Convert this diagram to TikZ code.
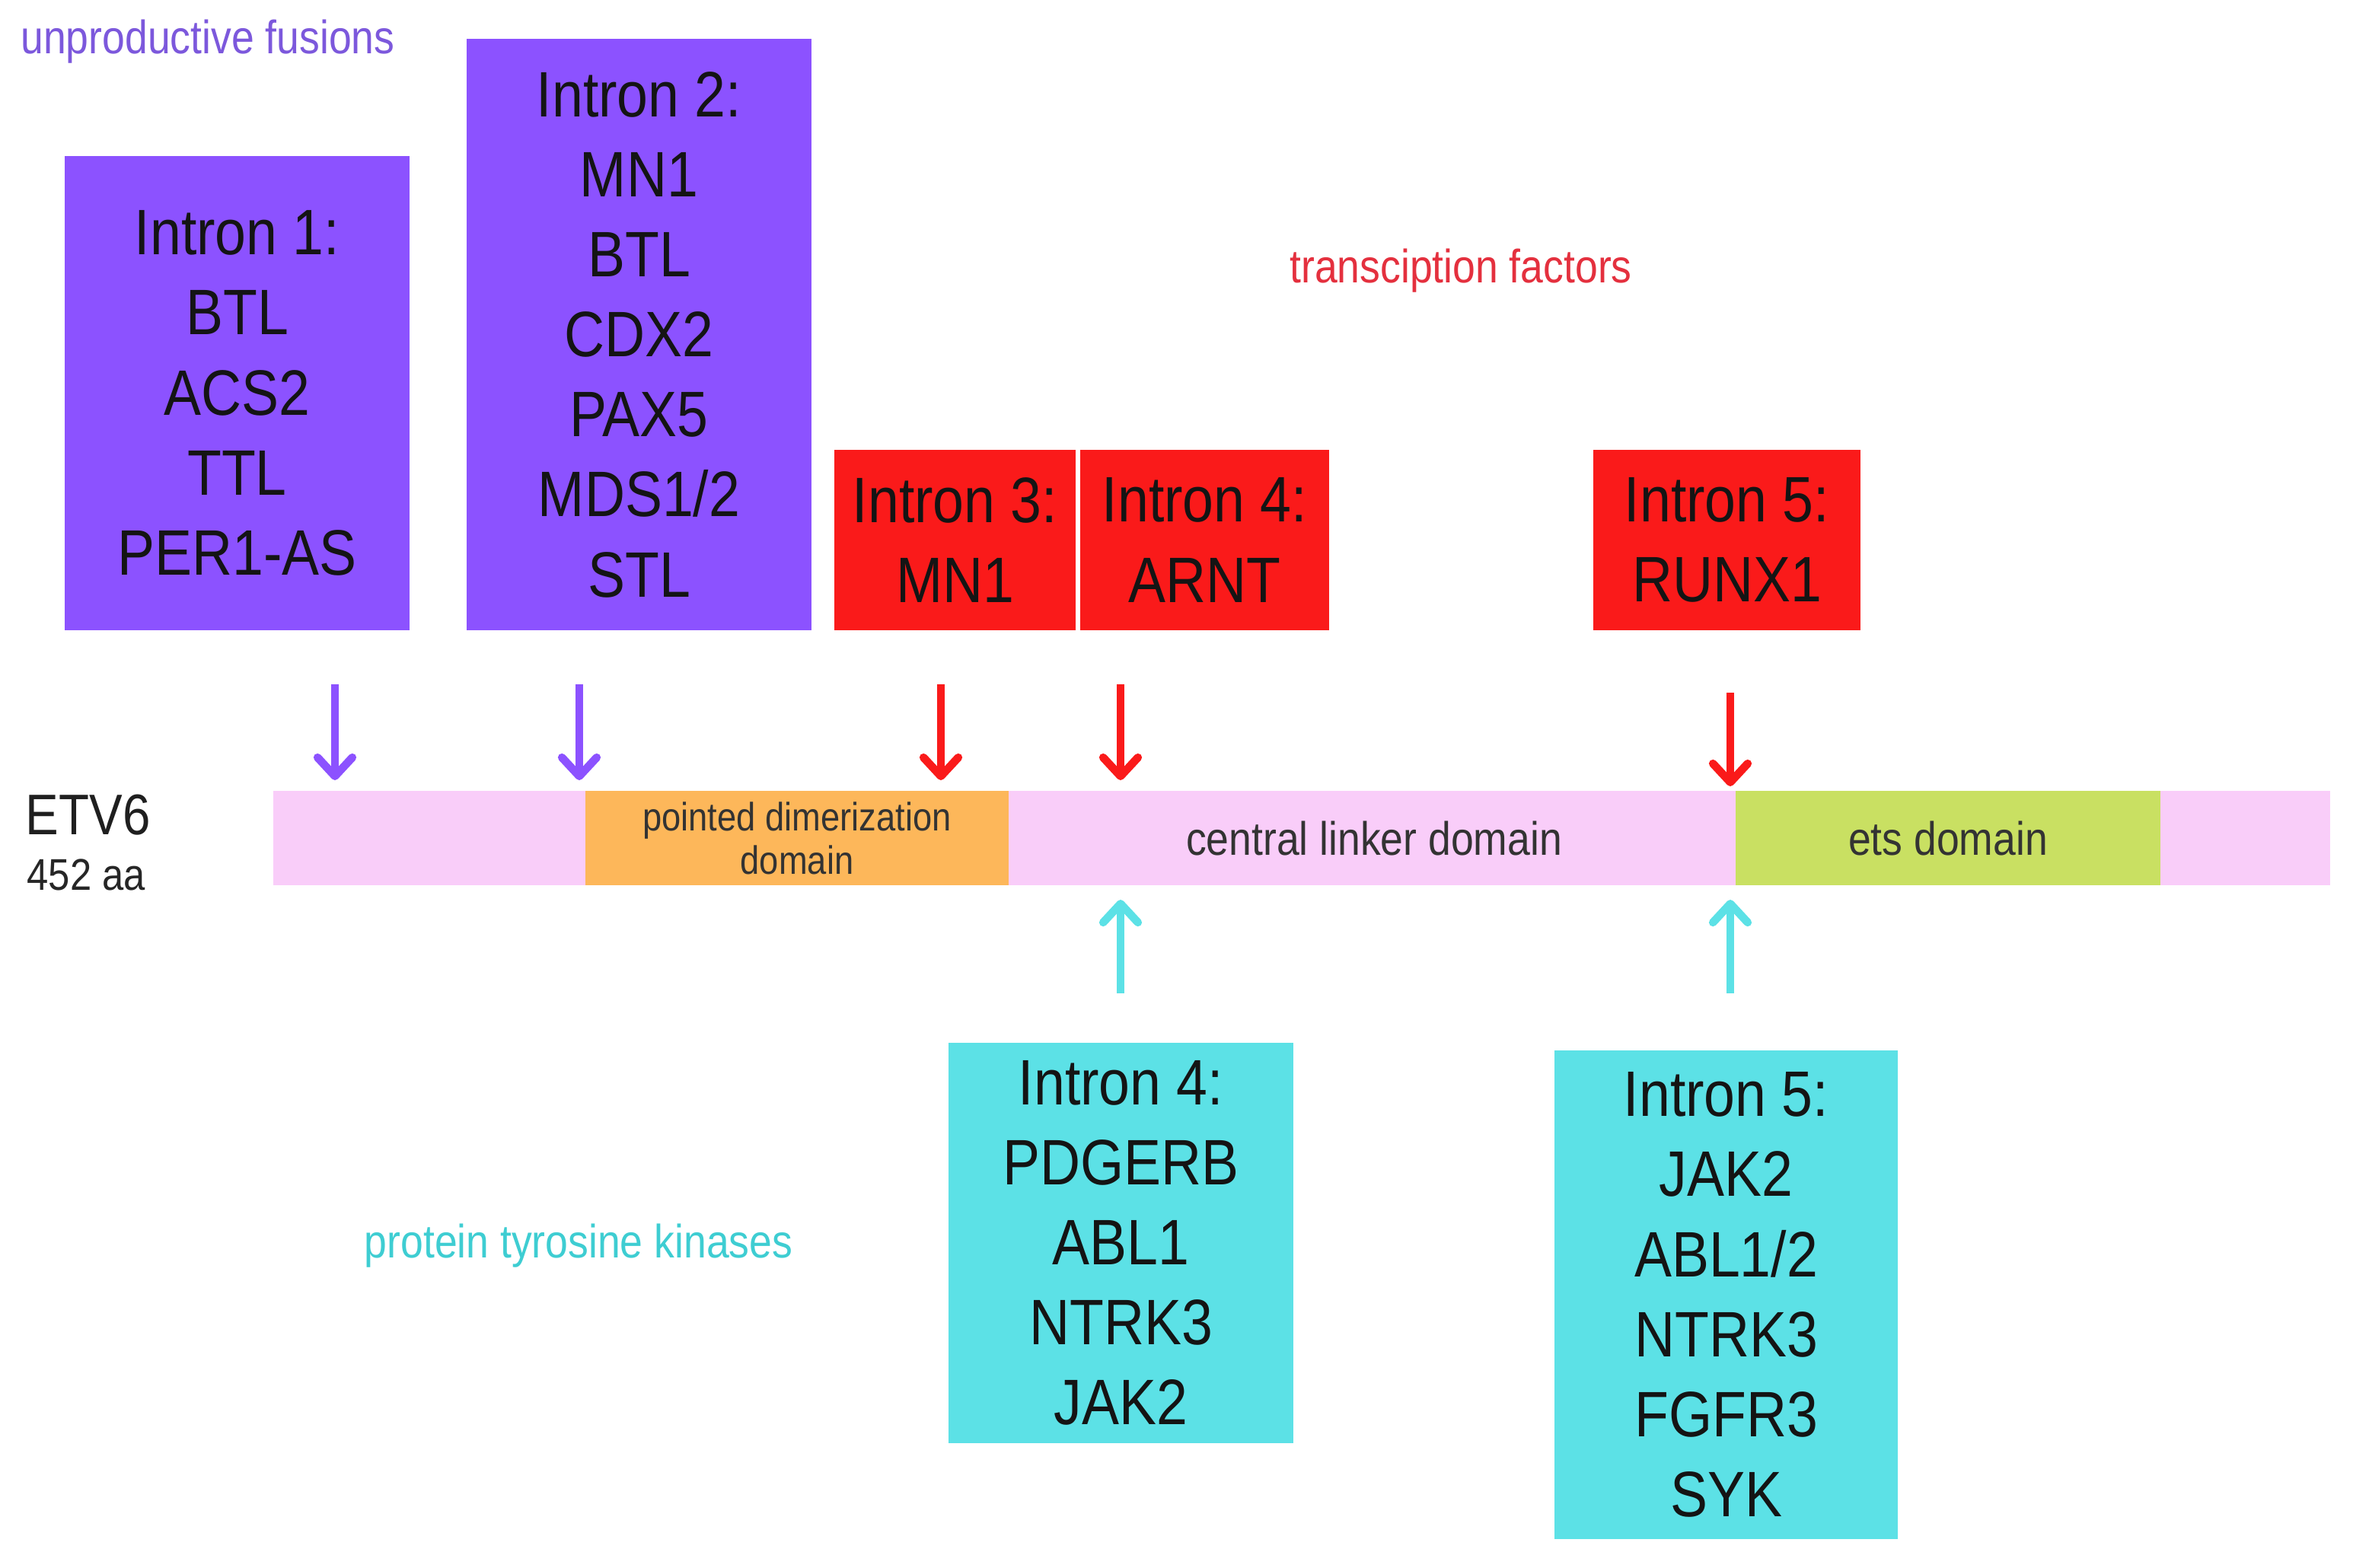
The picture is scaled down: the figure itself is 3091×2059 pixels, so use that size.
\documentclass[tikz,border=0pt]{standalone}
\usepackage{fontspec}
\setmainfont{Liberation Sans}[FakeStretch=0.87]
\usetikzlibrary{arrows.meta}

\definecolor{unprod}{HTML}{8C52FF}
\definecolor{tfred}{HTML}{FA1A1A}
\definecolor{kincyan}{HTML}{5CE1E6}
\definecolor{barpink}{HTML}{F9CDF9}
\definecolor{pntorange}{HTML}{FDB75A}
\definecolor{etsgreen}{HTML}{C9E062}
\definecolor{unprodtext}{HTML}{7C58DC}
\definecolor{tftext}{HTML}{E4303E}
\definecolor{kintext}{HTML}{3ECDD2}

\begin{document}
\begin{tikzpicture}[x=0.01cm,y=-0.01cm,
  intron/.style={inner sep=0pt,align=center,text=black!92,
    font=\fontsize{24}{29.9}\selectfont},
  legend/.style={inner sep=0pt,font=\fontsize{17.5}{20}\selectfont},
  domainbox/.style={inner sep=0pt,align=center,text=black!80,minimum height=1.24cm},
  brk/.style={line width=3pt,-{Straight Barb[round,length=7pt,width=13pt]}}]

\useasboundingbox (0,0) rectangle (3091,2059);

% legend texts
\node[legend,text=unprodtext] (lunprod) at (273,55) {unproductive fusions};
\node[legend,text=tftext] (ltf) at (1919,356) {transciption factors};
\node[legend,text=kintext] (lkin) at (760,1637) {protein tyrosine kinases};

% unproductive fusions
\node[intron,fill=unprod,minimum width=4.53cm,minimum height=6.23cm] (i1) at (311.5,516.5)
  {Intron 1:\\BTL\\ACS2\\TTL\\PER1-AS};
\node[intron,fill=unprod,minimum width=4.53cm,minimum height=7.77cm] (i2) at (839.5,439.5)
  {Intron 2:\\MN1\\BTL\\CDX2\\PAX5\\MDS1/2\\STL};

% transcription factors
\node[intron,fill=tfred,minimum width=3.17cm,minimum height=2.37cm] (t3) at (1254.5,709.5)
  {Intron 3:\\MN1};
\node[intron,fill=tfred,minimum width=3.27cm,minimum height=2.37cm] (t4) at (1582.5,709.5)
  {Intron 4:\\ARNT};
\node[intron,fill=tfred,minimum width=3.51cm,minimum height=2.37cm] (t5) at (2268.5,709.5)
  {Intron 5:\\RUNX1};

% protein tyrosine kinases
\node[intron,fill=kincyan,minimum width=4.53cm,minimum height=5.26cm] (k4) at (1472.5,1633)
  {Intron 4:\\PDGERB\\ABL1\\NTRK3\\JAK2};
\node[intron,fill=kincyan,minimum width=4.51cm,minimum height=6.42cm] (k5) at (2267.5,1701)
  {Intron 5:\\JAK2\\ABL1/2\\NTRK3\\FGFR3\\SYK};

% ETV6 protein
\node[anchor=west,inner sep=0pt,text=black!88,font=\fontsize{21.4}{24}\selectfont] (etv) at (33,1071) {ETV6};
\node[anchor=west,inner sep=0pt,text=black!85,font=\fontsize{16.6}{20}\selectfont] (len) at (35,1149) {452 aa};

\fill[barpink] (359,1039) rectangle (3061,1163);
\node[domainbox,fill=pntorange,minimum width=5.56cm,font=\fontsize{14.8}{16.2}\selectfont] (pnt) at (1047,1101)
  {pointed dimerization\\domain};
\node[domainbox,font=\fontsize{17.5}{20}\selectfont] (lnk) at (1805,1101) {central linker domain};
\node[domainbox,fill=etsgreen,minimum width=5.58cm,font=\fontsize{17.5}{20}\selectfont] (ets) at (2559,1101) {ets domain};

% breakpoints
\coordinate (a1) at (440,899);   \coordinate (b1) at (440,1025);
\coordinate (a2) at (761,899);   \coordinate (b2) at (761,1025);
\coordinate (a3) at (1236,899);  \coordinate (b3) at (1236,1025);
\coordinate (a4) at (1472,899);  \coordinate (b4) at (1472,1025);
\coordinate (a5) at (2273,910);  \coordinate (b5) at (2273,1033);
\coordinate (c4) at (1472,1305); \coordinate (d4) at (1472,1182);
\coordinate (c5) at (2273,1305); \coordinate (d5) at (2273,1182);

\draw[brk,unprod] (a1) -- (b1);
\draw[brk,unprod] (a2) -- (b2);
\draw[brk,tfred] (a3) -- (b3);
\draw[brk,tfred] (a4) -- (b4);
\draw[brk,tfred] (a5) -- (b5);
\draw[brk,kincyan] (c4) -- (d4);
\draw[brk,kincyan] (c5) -- (d5);

\end{tikzpicture}
\end{document}
